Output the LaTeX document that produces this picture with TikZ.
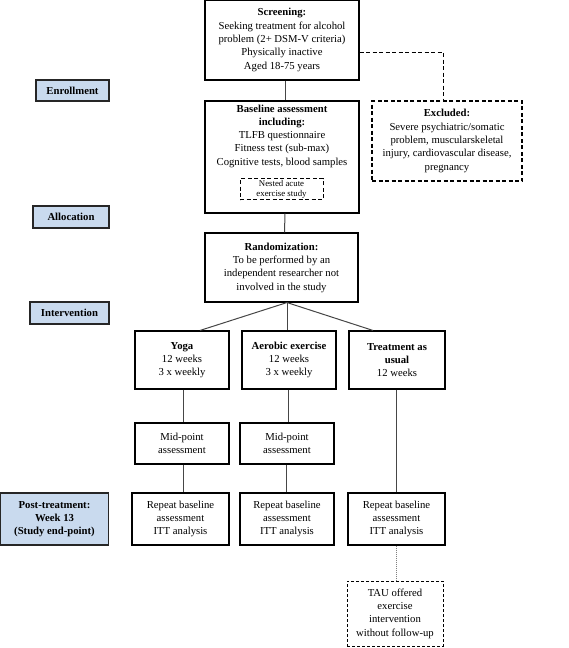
\documentclass[tikz,border=0pt]{standalone}
\usepackage{fontspec}
\setmainfont{Liberation Serif}
\definecolor{labfill}{RGB}{201,218,238}
\definecolor{lnc}{RGB}{70,70,70}
\begin{document}
\begin{tikzpicture}[x=1pt,y=-1pt,
  box/.style={draw=black,line width=1.1pt,fill=white,align=center,inner sep=1pt,
    font=\fontsize{10.7}{13.3}\selectfont},
  dbox/.style={box,dash pattern=on 4pt off 2.5pt},
  tbox/.style={box,line width=0.9pt,dash pattern=on 3pt off 2pt},
  lab/.style={draw=black!85,line width=1.2pt,fill=labfill,align=center,inner sep=1pt,
    font=\fontsize{10.7}{13.3}\selectfont\bfseries},
  conn/.style={draw=lnc,line width=1pt},
  dconn/.style={draw=black,line width=0.9pt,dash pattern=on 4pt off 2.5pt},
  dotconn/.style={draw=gray,line width=0.9pt,dash pattern=on 1pt off 1pt}]
\useasboundingbox (0,0) rectangle (568,648);
\fill[white] (0,0) rectangle (568,648);

% left labels
\node[lab,minimum width=73,minimum height=21] (enr) at (72.5,90.5) {Enrollment};
\node[lab,minimum width=76,minimum height=22] (alloc) at (71,217) {Allocation};
\node[lab,minimum width=79,minimum height=22] (interv) at (69.5,313) {Intervention};
\node[lab,minimum width=108,minimum height=52] (post) at (54.5,519) {Post-treatment:\\Week 13\\(Study end-point)};

% screening
\node[box,minimum width=154,minimum height=80] (screen) at (282,40)
  {\textbf{Screening:}\\Seeking treatment for alcohol\\problem (2+ DSM-V criteria)\\Physically inactive\\Aged 18-75 years};

% baseline
\node[box,minimum width=154,minimum height=112] (base) at (282,157) {};
\node[align=center,anchor=north,inner sep=0pt,font=\fontsize{10.7}{13.3}\selectfont] (basetxt) at ([yshift=-4]base.north)
  {\textbf{Baseline assessment}\\\textbf{including:}\\TLFB questionnaire\\Fitness test (sub-max)\\Cognitive tests, blood samples};
\node[box,dash pattern=on 4pt off 2.5pt,line width=0.9pt,minimum width=83,minimum height=21,inner sep=0.3pt,
  font=\fontsize{8.8}{10}\selectfont] (nest) at (281.5,189) {Nested acute\\exercise study};

% excluded
\node[dbox,minimum width=150,minimum height=80] (excl) at (447,141)
  {\textbf{Excluded:}\\Severe psychiatric/somatic\\problem, muscularskeletal\\injury, cardiovascular disease,\\pregnancy};

% randomization
\node[box,minimum width=153,minimum height=69] (rand) at (281.5,267.5)
  {\textbf{Randomization:}\\To be performed by an\\independent researcher not\\involved in the study};

% arms
\node[box,minimum width=94,minimum height=58] (yoga) at (182,360) {\textbf{Yoga}\\12 weeks\\3 x weekly};
\node[box,minimum width=94,minimum height=58] (aero) at (289,360) {\textbf{Aerobic exercise}\\12 weeks\\3 x weekly};
\node[box,minimum width=96,minimum height=58] (tau) at (397,360) {\textbf{Treatment as}\\\textbf{usual}\\12 weeks};

% mid-point
\node[box,minimum width=94,minimum height=41] (midy) at (182,443.5) {Mid-point\\assessment};
\node[box,minimum width=94,minimum height=41] (mida) at (287,443.5) {Mid-point\\assessment};

% repeat
\node[box,minimum width=97,minimum height=52] (repy) at (180.5,519) {Repeat baseline\\assessment\\ITT analysis};
\node[box,minimum width=94,minimum height=52] (repa) at (287,519) {Repeat baseline\\assessment\\ITT analysis};
\node[box,minimum width=97,minimum height=52] (rept) at (396.5,519) {Repeat baseline\\assessment\\ITT analysis};

% TAU offered
\node[tbox,minimum width=96,minimum height=65] (offer) at (395,613.5)
  {TAU offered\\exercise\\intervention\\without follow-up};

% connectors
\draw[conn] ([xshift=3]screen.south) -- ([xshift=3]base.north);
\draw[dconn] ([yshift=-12]screen.east) -| ([xshift=-4]excl.north);
\draw[conn] ([xshift=3]base.south) -- ([xshift=3]rand.south |- rand.north);
\coordinate (br) at ([xshift=5.5]rand.south);
\draw[conn] (br) -- ([xshift=18]yoga.north);
\draw[conn] (br) -- ([xshift=-2]aero.north);
\draw[conn] (br) -- ([xshift=-24]tau.north);
\draw[conn] ([xshift=1]yoga.south) -- ([xshift=1]midy.north);
\draw[conn] ([xshift=-1]aero.south) -- ([xshift=1]mida.north);
\draw[conn] ([xshift=1]midy.south) -- ([xshift=2.5]repy.north);
\draw[conn] ([xshift=-1]mida.south) -- ([xshift=-1]repa.north);
\draw[conn] ([xshift=-1]tau.south) -- ([xshift=-0.5]rept.north);
\draw[dotconn] ([xshift=-0.5]rept.south) -- ([xshift=1]offer.north);
\end{tikzpicture}
\end{document}
